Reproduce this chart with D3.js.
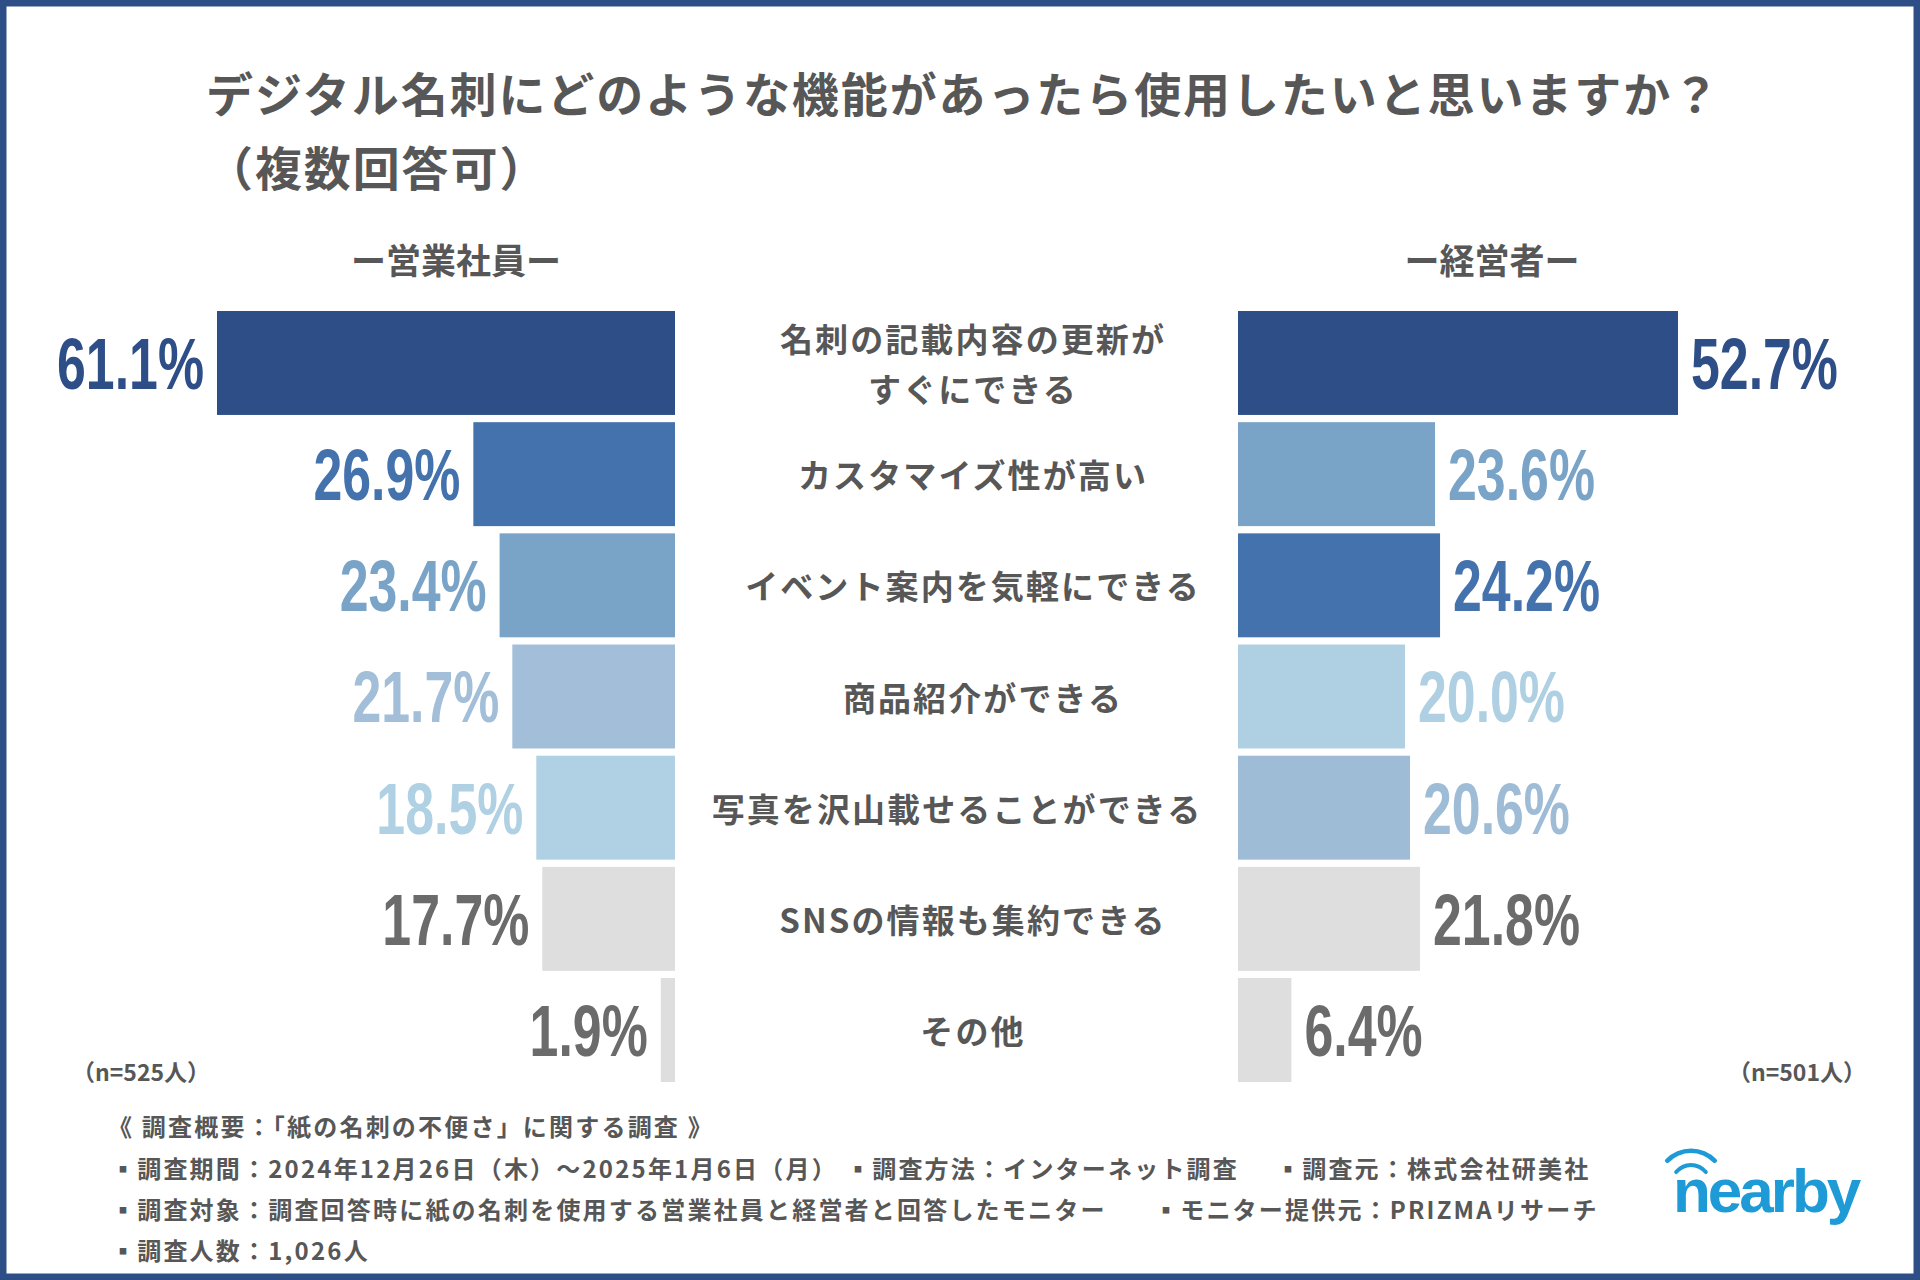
<!DOCTYPE html>
<html lang="ja">
<head>
<meta charset="utf-8">
<script src="https://d3js.org/d3.v7.min.js"></script>
<style>
  html, body { margin: 0; padding: 0; background: #fff; }
  svg { display: block; }
</style>
</head>
<body>
<svg id="chart" width="1920" height="1280"></svg>
<script>
// ---- data ----
const categories = [
  '名刺の記載内容の更新が\nすぐにできる',
  'カスタマイズ性が高い',
  'イベント案内を気軽にできる',
  '商品紹介ができる',
  '写真を沢山載せることができる',
  'SNSの情報も集約できる',
  'その他'
];
const salesValues = [61.1, 26.9, 23.4, 21.7, 18.5, 17.7, 1.9];
const execValues  = [52.7, 23.6, 24.2, 20.0, 20.6, 21.8, 6.4];

const groupTitles = ['ー営業社員ー', 'ー経営者ー'];
const sampleSizes = ['（n=525人）', '（n=501人）'];

const footerLines = [
  ['《 調査概要：「紙の名刺の不便さ」に関する調査 》'],
  ['▪調査期間：2024年12月26日（木）～2025年1月6日（月）', '▪調査方法：インターネット調査', '▪調査元：株式会社研美社'],
  ['▪調査対象：調査回答時に紙の名刺を使用する営業社員と経営者と回答したモニター', '▪モニター提供元：PRIZMAリサーチ'],
  ['▪調査人数：1,026人']
];

// ---- styles ----
const navy = '#2e4e87';
const gray = '#575757';
const numGray = '#6b6b6b';
const salesColors = ['#2e4e87', '#4472ad', '#79a3c7', '#a2bed8', '#afd1e3', '#dedede', '#dedede'];
const execColors  = ['#2e4e87', '#79a3c7', '#4472ad', '#afd0e2', '#9fbcd7', '#dedede', '#dedede'];
const labelShift  = [0, 0, 0, 10, -16, 0, 0];   // the source centres a few labels slightly off
const jp = '"Noto Sans CJK JP", "Noto Sans", sans-serif';
const numFont = '"Liberation Sans", Arial, sans-serif';

const svg = d3.select('#chart');

svg.append('rect')
    .attr('x', 3).attr('y', 3)
    .attr('width', 1914).attr('height', 1274)
    .attr('fill', '#fff')
    .attr('stroke', navy)
    .attr('stroke-width', 7);

// title
const title = svg.append('g')
    .attr('font-family', jp)
    .attr('font-weight', 700)
    .attr('font-size', 47)
    .attr('letter-spacing', 1.9)
    .attr('fill', gray);
title.append('text').attr('x', 206).attr('y', 91).attr('dominant-baseline', 'central')
    .text('デジタル名刺にどのような機能があったら使用したいと思いますか？');
title.append('text').attr('x', 206).attr('y', 165).attr('dominant-baseline', 'central')
    .text('（複数回答可）');

// scales
const y = d3.scaleBand()
    .domain(d3.range(categories.length))
    .range([311, 1082])
    .paddingInner(0.065);

const leftEdge = 675, rightEdge = 1238;
const xLeft = d3.scaleLinear().domain([0, d3.max(salesValues)]).range([0, 458]);
const xRight = d3.scaleLinear().domain([0, d3.max(execValues)]).range([0, 440]);

// group headers
svg.selectAll('.group-title')
    .data(groupTitles)
    .join('text')
    .attr('class', 'group-title')
    .attr('x', (d, i) => i === 0 ? 456 : 1492)
    .attr('y', 258)
    .attr('text-anchor', 'middle')
    .attr('dominant-baseline', 'central')
    .attr('font-family', jp)
    .attr('font-weight', 700)
    .attr('font-size', 35)
    .attr('fill', gray)
    .text(d => d);

// left bars (営業社員)
svg.append('g').selectAll('rect')
    .data(salesValues)
    .join('rect')
    .attr('x', d => leftEdge - xLeft(d))
    .attr('y', (d, i) => y(i))
    .attr('width', d => xLeft(d))
    .attr('height', y.bandwidth())
    .attr('fill', (d, i) => salesColors[i]);

// right bars (経営者)
svg.append('g').selectAll('rect')
    .data(execValues)
    .join('rect')
    .attr('x', rightEdge)
    .attr('y', (d, i) => y(i))
    .attr('width', d => xRight(d))
    .attr('height', y.bandwidth())
    .attr('fill', (d, i) => execColors[i]);

// value labels
function labelColor(c) { return c === '#dedede' ? numGray : c; }

svg.append('g').selectAll('g')
    .data(salesValues)
    .join('g')
    .attr('transform', (d, i) => `translate(${leftEdge - xLeft(d) - 13},${y(i) + y.bandwidth() / 2})`)
    .append('text')
    .attr('transform', 'scale(0.72,1)')
    .attr('text-anchor', 'end')
    .attr('dy', '0.36em')
    .attr('font-family', numFont)
    .attr('font-weight', 700)
    .attr('font-size', 72)
    .attr('fill', (d, i) => labelColor(salesColors[i]))
    .text(d => d.toFixed(1) + '%');

svg.append('g').selectAll('g')
    .data(execValues)
    .join('g')
    .attr('transform', (d, i) => `translate(${rightEdge + xRight(d) + 13},${y(i) + y.bandwidth() / 2})`)
    .append('text')
    .attr('transform', 'scale(0.72,1)')
    .attr('text-anchor', 'start')
    .attr('dy', '0.36em')
    .attr('font-family', numFont)
    .attr('font-weight', 700)
    .attr('font-size', 72)
    .attr('fill', (d, i) => labelColor(execColors[i]))
    .text(d => d.toFixed(1) + '%');

// category labels
const cat = svg.append('g').selectAll('text')
    .data(categories)
    .join('text')
    .attr('y', (d, i) => y(i) + y.bandwidth() / 2)
    .attr('text-anchor', 'middle')
    .attr('dominant-baseline', 'central')
    .attr('font-family', jp)
    .attr('font-weight', 700)
    .attr('font-size', 33)
    .attr('letter-spacing', 2.1)
    .attr('fill', gray);

cat.each(function(d, i) {
    const lines = d.split('\n');
    const t = d3.select(this);
    const yc = +t.attr('y');
    lines.forEach((line, k) => {
        t.append('tspan')
            .attr('x', 973 + labelShift[i])
            .attr('y', yc + (k - (lines.length - 1) / 2) * 50)
            .text(line);
    });
});

// sample sizes
svg.selectAll('.nlabel')
    .data(sampleSizes)
    .join('text')
    .attr('class', 'nlabel')
    .attr('x', (d, i) => i === 0 ? 72 : 1866)
    .attr('y', 1071)
    .attr('text-anchor', (d, i) => i === 0 ? 'start' : 'end')
    .attr('dominant-baseline', 'central')
    .attr('font-family', jp)
    .attr('font-weight', 700)
    .attr('font-size', 23)
    .attr('fill', gray)
    .text(d => d);

// footer
const footerY = [1125, 1167, 1208, 1249];
const footerX = [[108], [111, 846, 1276], [111, 1154], [111]];
const footer = svg.append('g')
    .attr('font-family', jp)
    .attr('font-weight', 700)
    .attr('font-size', 24)
    .attr('letter-spacing', 2.2)
    .attr('fill', gray);
footerLines.forEach((segs, li) => {
    segs.forEach((s, si) => {
        footer.append('text')
            .attr('x', footerX[li][si])
            .attr('y', footerY[li])
            .attr('dominant-baseline', 'central')
            .text(s);
    });
});

// nearby logo
const logo = svg.append('g').attr('fill', '#1e9ad6');
logo.append('text')
    .attr('x', 1673)
    .attr('y', 1212)
    .attr('font-family', numFont)
    .attr('font-weight', 700)
    .attr('font-size', 62)
    .attr('letter-spacing', -3)
    .text('nearby');
const wave = d3.arc().cornerRadius(2);
[[17, 21, 1.0], [31, 35.5, 0.86]].forEach(([r0, r1, a]) => {
    logo.append('path')
        .attr('transform', 'translate(1691,1184)')
        .attr('d', wave({ innerRadius: r0, outerRadius: r1, startAngle: -a, endAngle: a }));
});
</script>
</body>
</html>
